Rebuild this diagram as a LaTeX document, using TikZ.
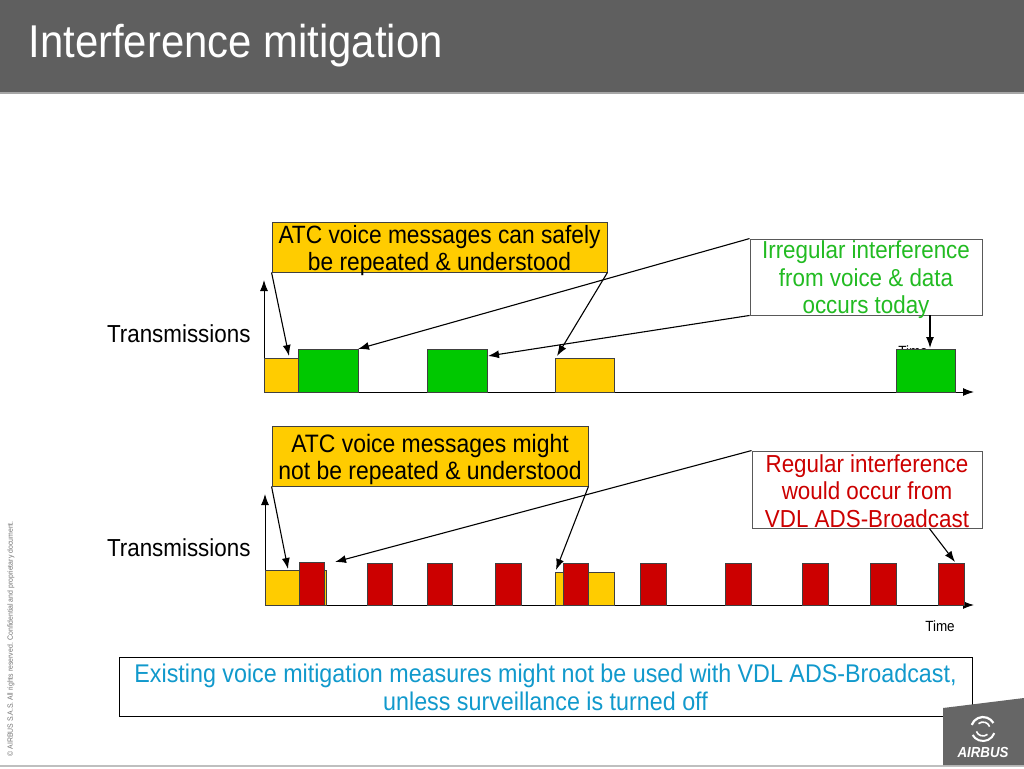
\documentclass[tikz,border=0pt]{standalone}
\usepackage{fontspec}
\setmainfont{Liberation Sans}[FakeStretch=0.91]
\usetikzlibrary{arrows.meta}
\definecolor{titlegray}{HTML}{5F5F5F}
\definecolor{atcyellow}{HTML}{FFCC00}
\definecolor{irrgreen}{HTML}{00C800}
\definecolor{irrtext}{HTML}{22BB22}
\definecolor{vdlred}{HTML}{CC0000}
\definecolor{notecyan}{HTML}{1199CC}
\tikzset{
  bar/.style={draw=black!75, line width=0.8pt, inner sep=0pt, outer sep=0pt, anchor=south west},
  atcnote/.style={draw=black!75, fill=atcyellow, line width=0.9pt, inner sep=0pt},
  sidenote/.style={draw=black!65, fill=white, line width=0.9pt, inner sep=0pt},
  notetext/.style={align=center, inner sep=0pt, font=\fontsize{25}{26.5}\selectfont},
  lbl/.style={font=\fontsize{24.6}{26}\selectfont},
  timelbl/.style={font=\fontsize{14.8}{16}\selectfont, anchor=base}
}

\begin{document}
\begin{tikzpicture}[x=1pt,y=-1pt,>={Latex[length=11pt,width=8pt]}]
  \useasboundingbox (0,0) rectangle (1024,768);
  % title bar
  \fill[titlegray] (0,0) rectangle (1024,92);
  \fill[black!35] (0,92) rectangle (1024,94);
  \node[anchor=base west, text=white, font=\fontsize{46}{50}\selectfont] (title) at (25,58) {Interference mitigation};

  % upper time line
  \coordinate (o1) at (264,392);
  \coordinate (yt1) at (264,280);
  \coordinate (xt1) at (974,392);
  \draw[line width=1pt,->] (o1) -- (yt1);
  \draw[line width=1pt,->] (o1) -- (xt1);
  \node[lbl, anchor=base east] (tr1) at (254,342) {Transmissions};
  \node[timelbl] (time1) at (913,356) {Time};
  \node[bar, fill=atcyellow, minimum width=34pt, minimum height=34pt] (y1) at (264,392) {};
  \node[bar, fill=irrgreen, minimum width=60pt, minimum height=43pt] (g1) at (298,392) {};
  \node[bar, fill=irrgreen, minimum width=60pt, minimum height=43pt] (g2) at (427,392) {};
  \node[bar, fill=atcyellow, minimum width=59pt, minimum height=34pt] (y2) at (555,392) {};
  \node[bar, fill=irrgreen, minimum width=59pt, minimum height=43pt] (g3) at (896,392) {};

  \node[atcnote, minimum width=335pt, minimum height=50pt] (atc1) at (439.5,247) {};
  \node[notetext] (atc1txt) at (439.5,250.5) {ATC voice messages can safely\\be repeated \& understood};
  \node[sidenote, minimum width=232pt, minimum height=76pt] (irr) at (866,277) {};
  \node[notetext, text=irrtext, font=\fontsize{24.6}{27.5}\selectfont] (irrtxt) at (866,280) {Irregular interference\\from voice \& data\\occurs today};

  \coordinate (t1) at (289,356);
  \coordinate (t2) at (557,356);
  \coordinate (t3) at (488,356);
  \coordinate (t4) at (930,348);
  \draw[line width=1.1pt,->] (atc1.south west) -- (t1);
  \draw[line width=1.1pt,->] (atc1.south east) -- (t2);
  \draw[line width=1.1pt,->] (irr.north west) -- (g1.north east);
  \draw[line width=1.1pt,->] (irr.south west) -- (t3);
  \draw[line width=1.1pt,->] (irr.south -| t4) -- (t4);

  % lower time line
  \coordinate (o2) at (265,605);
  \coordinate (yt2) at (265,494);
  \coordinate (xt2) at (974,605);
  \draw[line width=1pt,->] (o2) -- (yt2);
  \draw[line width=1pt,->] (o2) -- (xt2);
  \node[lbl, anchor=base east] (tr2) at (254,556) {Transmissions};
  \node[timelbl] (time2) at (940,631) {Time};
  \node[bar, fill=atcyellow, minimum width=61pt, minimum height=35pt] (y3) at (265,605) {};
  \node[bar, fill=vdlred, minimum width=25pt, minimum height=43pt] (r1) at (299,605) {};
  \node[bar, fill=vdlred, minimum width=25pt, minimum height=42pt] (r2) at (367,605) {};
  \node[bar, fill=vdlred, minimum width=25pt, minimum height=42pt] (r3) at (427,605) {};
  \node[bar, fill=vdlred, minimum width=26pt, minimum height=42pt] (r4) at (495,605) {};
  \node[bar, fill=atcyellow, minimum width=59pt, minimum height=33pt] (y4) at (555,605) {};
  \node[bar, fill=vdlred, minimum width=25pt, minimum height=42pt] (r5) at (563,605) {};
  \node[bar, fill=vdlred, minimum width=26pt, minimum height=42pt] (r6) at (640,605) {};
  \node[bar, fill=vdlred, minimum width=26pt, minimum height=42pt] (r7) at (725,605) {};
  \node[bar, fill=vdlred, minimum width=26pt, minimum height=42pt] (r8) at (802,605) {};
  \node[bar, fill=vdlred, minimum width=26pt, minimum height=42pt] (r9) at (870,605) {};
  \node[bar, fill=vdlred, minimum width=26pt, minimum height=42pt] (r10) at (938,605) {};

  \node[atcnote, minimum width=316pt, minimum height=60pt] (atc2) at (430,456) {};
  \node[notetext, font=\fontsize{25.2}{27}\selectfont] (atc2txt) at (430,459) {ATC voice messages might\\not be repeated \& understood};
  \node[sidenote, minimum width=230pt, minimum height=77pt] (reg) at (867,489.5) {};
  \node[notetext, text=vdlred, font=\fontsize{24.6}{27.5}\selectfont] (regtxt) at (867,491) {Regular interference\\would occur from\\VDL ADS-Broadcast};

  \coordinate (t5) at (288,569);
  \coordinate (t6) at (556,570);
  \coordinate (t7) at (335,562);
  \coordinate (t8) at (955,562);
  \draw[line width=1.1pt,->] (atc2.south west) -- (t5);
  \draw[line width=1.1pt,->] (atc2.south east) -- (t6);
  \draw[line width=1.1pt,->] (reg.north west) -- (t7);
  \draw[line width=1.1pt,->] (reg.-32) -- (t8);

  % conclusion
  \node[draw=black, fill=white, line width=0.9pt, inner sep=0pt, minimum width=853pt, minimum height=59pt] (concl) at (545.5,686.5) {};
  \node[notetext, text=notecyan, font=\fontsize{25.6}{28}\selectfont] (concltxt) at (545.5,687.5)
    {Existing voice mitigation measures might not be used with VDL ADS-Broadcast,\\unless surveillance is turned off};

  % footer
  \draw[black!25, line width=1.5pt] (0,766) -- (1024,766);
  \node[rotate=90, anchor=west, text=black!55, font=\fontsize{7.6}{9}\selectfont] (copy) at (11,760)
    {© AIRBUS S.A.S. All rights reserved. Confidential and proprietary document.};
  \fill[black!60] (943,708) -- (1024,698) -- (1024,765) -- (943,765) -- cycle;
  \draw[white, line width=2.2pt] (983,729) ++(200:12) arc (200:330:12);
  \draw[white, line width=2pt] (983,729) ++(20:12) arc (20:150:12);
  \draw[white, line width=1.6pt] (983,729) ++(230:7) arc (230:340:7);
  \draw[white, line width=1.6pt] (983,729) ++(50:7) arc (50:160:7);
  \node[text=white, font=\fontsize{14.6}{15}\bfseries\itshape\selectfont] (logo) at (983,752) {AIRBUS};
\end{tikzpicture}
\end{document}
